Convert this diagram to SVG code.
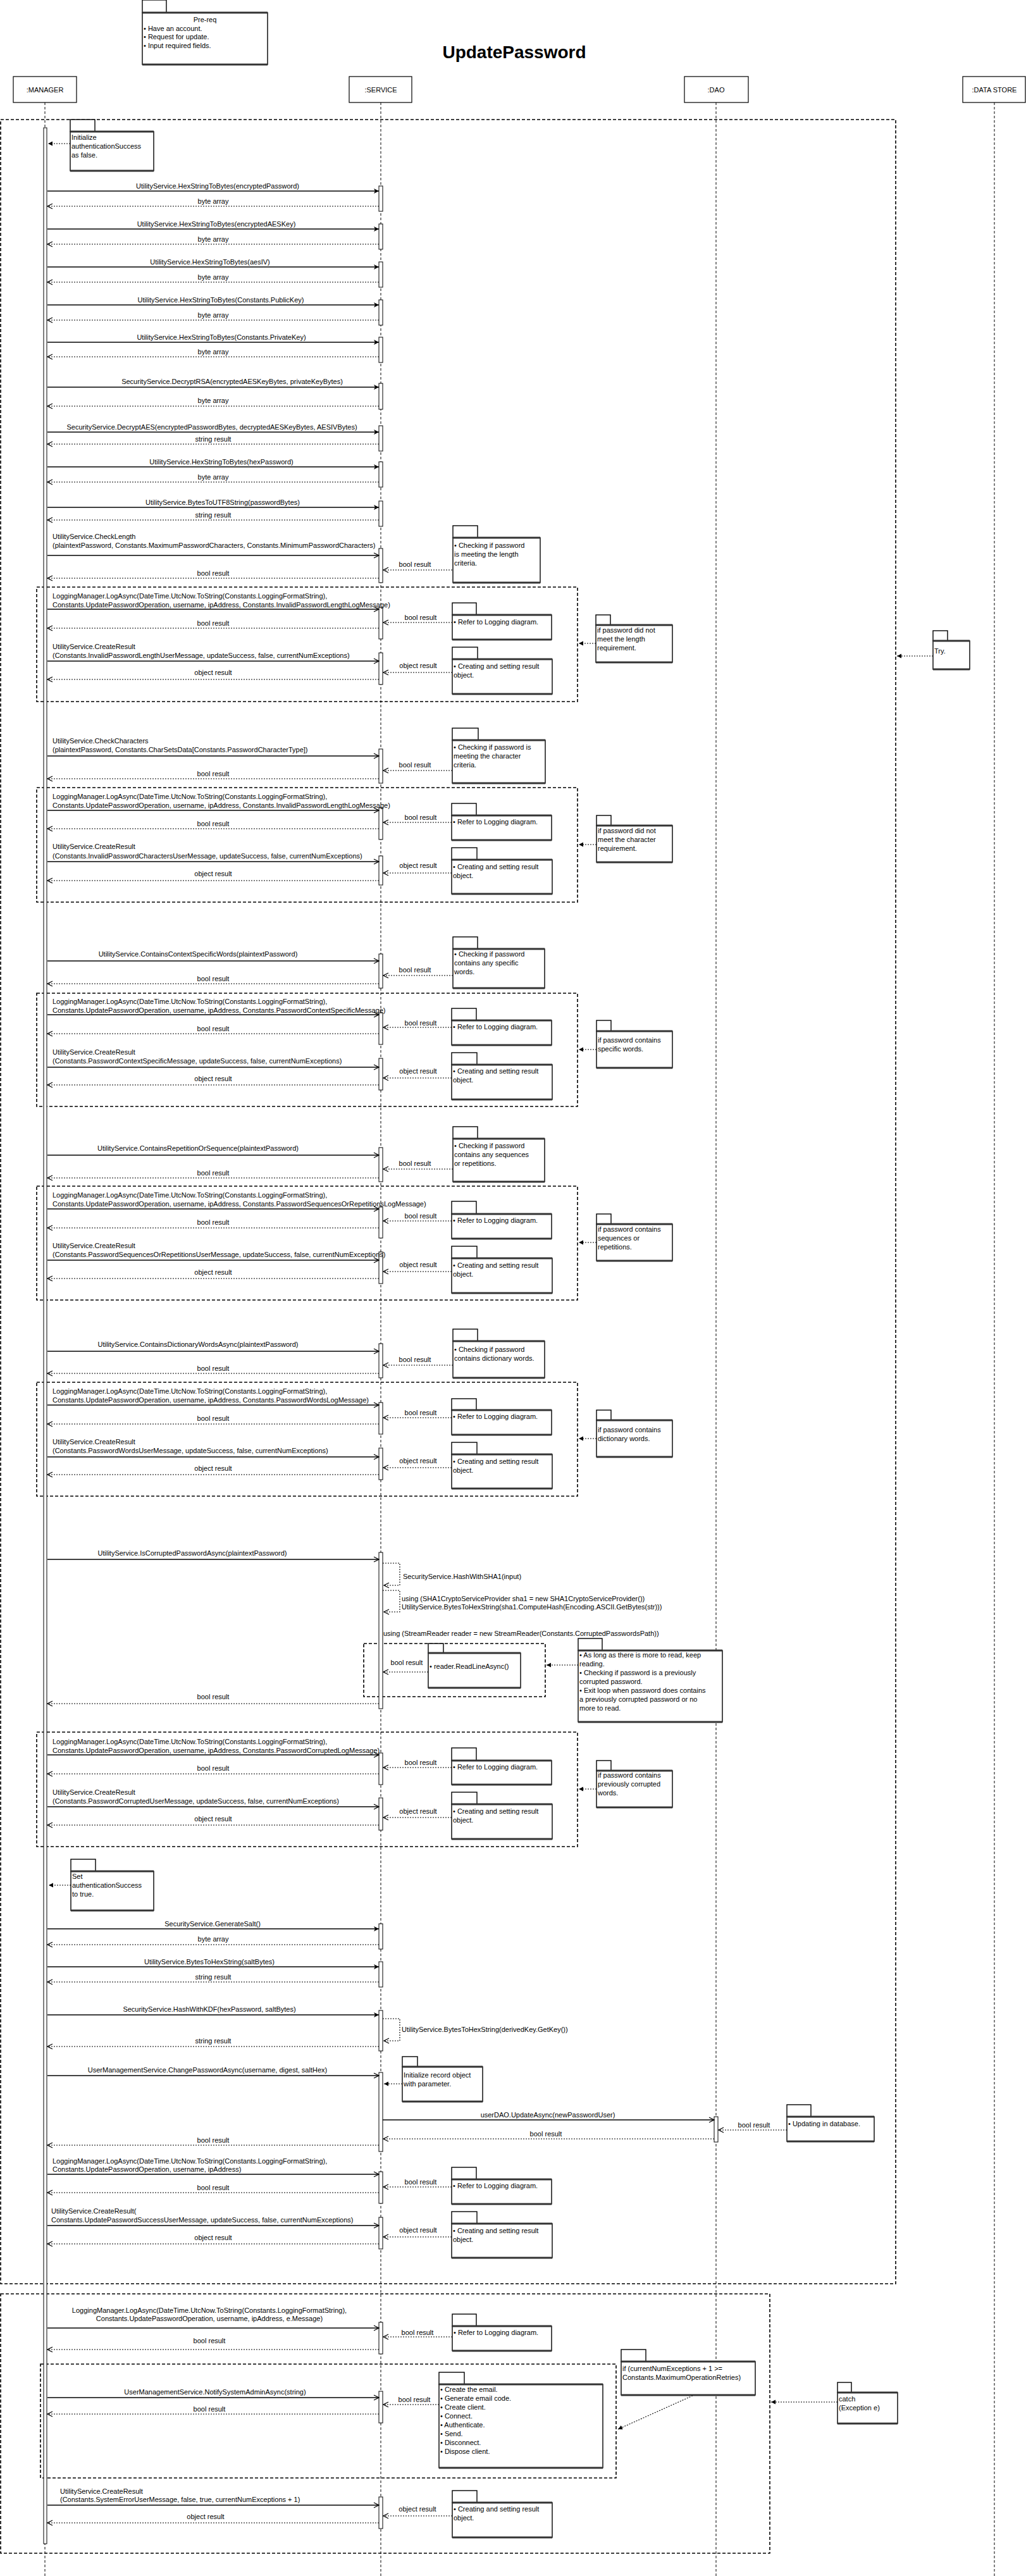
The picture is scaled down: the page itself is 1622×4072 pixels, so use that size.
<svg xmlns="http://www.w3.org/2000/svg" width="1622" height="4072" viewBox="0 0 1622 4072">
<style>
.t{font-family:"Liberation Sans",Arial,sans-serif;font-size:11px;fill:#000}
.m{text-anchor:middle}
.ttl{font-family:"Liberation Sans",Arial,sans-serif;font-size:28px;font-weight:bold;text-anchor:middle;fill:#000}
.ll{stroke:#000;stroke-width:1;stroke-dasharray:4 3;fill:none}
.fr{fill:none;stroke:#000;stroke-width:1.6;stroke-dasharray:5 3}
.hd{fill:#fff;stroke:#000;stroke-width:1.2}
.bar{fill:#fff;stroke:#000;stroke-width:1}
.call{stroke:#000;stroke-width:1.4;fill:none}
.ret{stroke:#000;stroke-width:1.1;stroke-dasharray:2 2;fill:none}
.tab,.nb{fill:#fff;stroke:#000;stroke-width:1.4}
.nbt{stroke:#333;stroke-width:3;fill:none}
</style>
<defs>
<marker id="af" viewBox="0 0 10 10" refX="9" refY="5" markerWidth="10" markerHeight="10" markerUnits="userSpaceOnUse" orient="auto"><path d="M1,1 L9,5 L1,9 L3,5 Z" fill="#000"/></marker>
<marker id="ao" viewBox="0 0 10 10" refX="9" refY="5" markerWidth="10" markerHeight="10" markerUnits="userSpaceOnUse" orient="auto"><path d="M1,1 L9,5 L1,9" fill="none" stroke="#000" stroke-width="1.2"/></marker>
<marker id="as" viewBox="0 0 8 8" refX="7" refY="4" markerWidth="8" markerHeight="8" markerUnits="userSpaceOnUse" orient="auto"><path d="M0,0.5 L7,4 L0,7.5 Z" fill="#000"/></marker>
</defs>
<rect width="1622" height="4072" fill="#fff"/>

<text class="ttl" x="813" y="92">UpdatePassword</text>

<g id="lifelines">
<line class="ll" x1="71" y1="162" x2="71" y2="4072"/>
<line class="ll" x1="602" y1="162" x2="602" y2="4072"/>
<line class="ll" x1="1132" y1="162" x2="1132" y2="4072"/>
<line class="ll" x1="1572" y1="162" x2="1572" y2="4072"/>
</g>
<g id="manager"><rect class="hd" x="21" y="121" width="100" height="41"/><text class="t m" x="71" y="146">:MANAGER</text></g>
<g id="service"><rect class="hd" x="552" y="121" width="99" height="41"/><text class="t m" x="602" y="146">:SERVICE</text></g>
<g id="dao"><rect class="hd" x="1082" y="121" width="101" height="41"/><text class="t m" x="1132" y="146">:DAO</text></g>
<g id="datastore"><rect class="hd" x="1522" y="121" width="99" height="41"/><text class="t m" x="1572" y="146">:DATA STORE</text></g>

<g id="frames">
<rect class="fr" x="1" y="189" width="1415" height="3421"/>
<rect class="fr" x="1" y="3626" width="1216" height="410"/>
<rect class="fr" x="58" y="928" width="855" height="181"/>
<rect class="fr" x="58" y="1245" width="855" height="181"/>
<rect class="fr" x="58" y="1570" width="855" height="179"/>
<rect class="fr" x="58" y="1875" width="855" height="180"/>
<rect class="fr" x="58" y="2185" width="855" height="180"/>
<rect class="fr" x="575" y="2598" width="287" height="84"/>
<rect class="fr" x="58" y="2738" width="855" height="181"/>
<rect class="fr" x="64" y="3737" width="910" height="180"/>
</g>

<g id="activations">
<rect class="bar" x="69" y="202" width="5" height="3819"/>
<rect class="bar" x="599" y="294" width="6" height="40"/>
<rect class="bar" x="599" y="354" width="6" height="40"/>
<rect class="bar" x="599" y="414" width="6" height="40"/>
<rect class="bar" x="599" y="474" width="6" height="40"/>
<rect class="bar" x="599" y="533" width="6" height="40"/>
<rect class="bar" x="599" y="606" width="6" height="41"/>
<rect class="bar" x="599" y="673" width="6" height="40"/>
<rect class="bar" x="599" y="730" width="6" height="40"/>
<rect class="bar" x="599" y="792" width="6" height="40"/>
<rect class="bar" x="599" y="867" width="6" height="54"/>
<rect class="bar" x="599" y="960" width="6" height="50"/>
<rect class="bar" x="599" y="1032" width="6" height="50"/>
<rect class="bar" x="599" y="1184" width="6" height="54"/>
<rect class="bar" x="599" y="1277" width="6" height="50"/>
<rect class="bar" x="599" y="1353" width="6" height="46"/>
<rect class="bar" x="599" y="1508" width="6" height="54"/>
<rect class="bar" x="599" y="1601" width="6" height="50"/>
<rect class="bar" x="599" y="1673" width="6" height="50"/>
<rect class="bar" x="599" y="1814" width="6" height="54"/>
<rect class="bar" x="599" y="1908" width="6" height="49"/>
<rect class="bar" x="599" y="1979" width="6" height="50"/>
<rect class="bar" x="599" y="2124" width="6" height="54"/>
<rect class="bar" x="599" y="2217" width="6" height="50"/>
<rect class="bar" x="599" y="2289" width="6" height="50"/>
<rect class="bar" x="599" y="2454" width="6" height="247"/>
<rect class="bar" x="599" y="2771" width="6" height="50"/>
<rect class="bar" x="599" y="2842" width="6" height="51"/>
<rect class="bar" x="599" y="3041" width="6" height="40"/>
<rect class="bar" x="599" y="3101" width="6" height="40"/>
<rect class="bar" x="599" y="3178" width="6" height="64"/>
<rect class="bar" x="599" y="3276" width="6" height="125"/>
<rect class="bar" x="1129" y="3346" width="6" height="40"/>
<rect class="bar" x="599" y="3433" width="6" height="50"/>
<rect class="bar" x="599" y="3505" width="6" height="50"/>
<rect class="bar" x="599" y="3671" width="6" height="50"/>
<rect class="bar" x="599" y="3780" width="6" height="50"/>
<rect class="bar" x="599" y="3947" width="6" height="50"/>
</g>

<g id="connectors">
<!-- simple calls -->
<line class="call" x1="75" y1="302" x2="599" y2="302" marker-end="url(#af)"/>
<text class="t m" x="344" y="298">UtilityService.HexStringToBytes(encryptedPassword)</text>
<line class="ret" x1="599" y1="326" x2="75" y2="326" marker-end="url(#ao)"/>
<text class="t m" x="337" y="322">byte array</text>

<line class="call" x1="75" y1="362" x2="599" y2="362" marker-end="url(#af)"/>
<text class="t m" x="342" y="358">UtilityService.HexStringToBytes(encryptedAESKey)</text>
<line class="ret" x1="599" y1="386" x2="75" y2="386" marker-end="url(#ao)"/>
<text class="t m" x="337" y="382">byte array</text>

<line class="call" x1="75" y1="422" x2="599" y2="422" marker-end="url(#af)"/>
<text class="t m" x="332" y="418">UtilityService.HexStringToBytes(aesIV)</text>
<line class="ret" x1="599" y1="446" x2="75" y2="446" marker-end="url(#ao)"/>
<text class="t m" x="337" y="442">byte array</text>

<line class="call" x1="75" y1="482" x2="599" y2="482" marker-end="url(#af)"/>
<text class="t m" x="349" y="478">UtilityService.HexStringToBytes(Constants.PublicKey)</text>
<line class="ret" x1="599" y1="506" x2="75" y2="506" marker-end="url(#ao)"/>
<text class="t m" x="337" y="502">byte array</text>

<line class="call" x1="75" y1="541" x2="599" y2="541" marker-end="url(#af)"/>
<text class="t m" x="350" y="537">UtilityService.HexStringToBytes(Constants.PrivateKey)</text>
<line class="ret" x1="599" y1="564" x2="75" y2="564" marker-end="url(#ao)"/>
<text class="t m" x="337" y="560">byte array</text>

<line class="call" x1="75" y1="612" x2="599" y2="612" marker-end="url(#af)"/>
<text class="t m" x="367" y="607">SecurityService.DecryptRSA(encryptedAESKeyBytes, privateKeyBytes)</text>
<line class="ret" x1="599" y1="642" x2="75" y2="642" marker-end="url(#ao)"/>
<text class="t m" x="337" y="637">byte array</text>

<line class="call" x1="75" y1="683" x2="599" y2="683" marker-end="url(#af)"/>
<text class="t m" x="335" y="679">SecurityService.DecryptAES(encryptedPasswordBytes, decryptedAESKeyBytes, AESIVBytes)</text>
<line class="ret" x1="599" y1="702" x2="75" y2="702" marker-end="url(#ao)"/>
<text class="t m" x="337" y="698">string result</text>

<line class="call" x1="75" y1="738" x2="599" y2="738" marker-end="url(#af)"/>
<text class="t m" x="350" y="734">UtilityService.HexStringToBytes(hexPassword)</text>
<line class="ret" x1="599" y1="762" x2="75" y2="762" marker-end="url(#ao)"/>
<text class="t m" x="337" y="758">byte array</text>

<line class="call" x1="75" y1="802" x2="599" y2="802" marker-end="url(#af)"/>
<text class="t m" x="352" y="798">UtilityService.BytesToUTF8String(passwordBytes)</text>
<line class="ret" x1="599" y1="822" x2="75" y2="822" marker-end="url(#ao)"/>
<text class="t m" x="337" y="818">string result</text>

<!-- CheckLength -->
<text class="t" x="83" y="852">UtilityService.CheckLength</text>
<text class="t" x="83" y="866">(plaintextPassword, Constants.MaximumPasswordCharacters, Constants.MinimumPasswordCharacters)</text>
<line class="call" x1="75" y1="878" x2="599" y2="878" marker-end="url(#ao)"/>
<line class="ret" x1="715" y1="901" x2="606" y2="901" marker-end="url(#ao)"/>
<text class="t m" x="656" y="896">bool result</text>
<line class="ret" x1="599" y1="914" x2="75" y2="914" marker-end="url(#ao)"/>
<text class="t m" x="337" y="910">bool result</text>

<!-- Log 1 -->
<text class="t" x="83" y="946">LoggingManager.LogAsync(DateTime.UtcNow.ToString(Constants.LoggingFormatString),</text>
<text class="t" x="83" y="960">Constants.UpdatePasswordOperation, username, ipAddress, Constants.InvalidPasswordLengthLogMessage)</text>
<line class="call" x1="75" y1="963" x2="599" y2="963" marker-end="url(#ao)"/>
<line class="ret" x1="715" y1="984" x2="606" y2="984" marker-end="url(#ao)"/>
<text class="t m" x="665" y="980">bool result</text>
<line class="ret" x1="599" y1="993" x2="75" y2="993" marker-end="url(#ao)"/>
<text class="t m" x="337" y="989">bool result</text>
<text class="t" x="83" y="1026">UtilityService.CreateResult</text>
<text class="t" x="83" y="1040">(Constants.InvalidPasswordLengthUserMessage, updateSuccess, false, currentNumExceptions)</text>
<line class="call" x1="75" y1="1045" x2="599" y2="1045" marker-end="url(#ao)"/>
<line class="ret" x1="715" y1="1063" x2="606" y2="1063" marker-end="url(#ao)"/>
<text class="t m" x="661" y="1056">object result</text>
<line class="ret" x1="599" y1="1074" x2="75" y2="1074" marker-end="url(#ao)"/>
<text class="t m" x="337" y="1067">object result</text>

<!-- CheckCharacters -->
<text class="t" x="83" y="1175">UtilityService.CheckCharacters</text>
<text class="t" x="83" y="1189">(plaintextPassword, Constants.CharSetsData[Constants.PasswordCharacterType])</text>
<line class="call" x1="75" y1="1195" x2="599" y2="1195" marker-end="url(#ao)"/>
<line class="ret" x1="715" y1="1218" x2="606" y2="1218" marker-end="url(#ao)"/>
<text class="t m" x="656" y="1213">bool result</text>
<line class="ret" x1="599" y1="1231" x2="75" y2="1231" marker-end="url(#ao)"/>
<text class="t m" x="337" y="1227">bool result</text>

<!-- Log 2 -->
<text class="t" x="83" y="1263">LoggingManager.LogAsync(DateTime.UtcNow.ToString(Constants.LoggingFormatString),</text>
<text class="t" x="83" y="1277">Constants.UpdatePasswordOperation, username, ipAddress, Constants.InvalidPasswordLengthLogMessage)</text>
<line class="call" x1="75" y1="1281" x2="599" y2="1281" marker-end="url(#ao)"/>
<line class="ret" x1="714" y1="1300" x2="606" y2="1300" marker-end="url(#ao)"/>
<text class="t m" x="665" y="1296">bool result</text>
<line class="ret" x1="599" y1="1310" x2="75" y2="1310" marker-end="url(#ao)"/>
<text class="t m" x="337" y="1306">bool result</text>
<text class="t" x="83" y="1342">UtilityService.CreateResult</text>
<text class="t" x="83" y="1357">(Constants.InvalidPasswordCharactersUserMessage, updateSuccess, false, currentNumExceptions)</text>
<line class="call" x1="75" y1="1362" x2="599" y2="1362" marker-end="url(#ao)"/>
<line class="ret" x1="714" y1="1380" x2="606" y2="1380" marker-end="url(#ao)"/>
<text class="t m" x="661" y="1372">object result</text>
<line class="ret" x1="599" y1="1392" x2="75" y2="1392" marker-end="url(#ao)"/>
<text class="t m" x="337" y="1385">object result</text>

<!-- Context -->
<text class="t m" x="313" y="1512">UtilityService.ContainsContextSpecificWords(plaintextPassword)</text>
<line class="call" x1="75" y1="1519" x2="599" y2="1519" marker-end="url(#ao)"/>
<line class="ret" x1="716" y1="1542" x2="606" y2="1542" marker-end="url(#ao)"/>
<text class="t m" x="656" y="1537">bool result</text>
<line class="ret" x1="599" y1="1555" x2="75" y2="1555" marker-end="url(#ao)"/>
<text class="t m" x="337" y="1551">bool result</text>

<!-- Log 3 -->
<text class="t" x="83" y="1587">LoggingManager.LogAsync(DateTime.UtcNow.ToString(Constants.LoggingFormatString),</text>
<text class="t" x="83" y="1601">Constants.UpdatePasswordOperation, username, ipAddress, Constants.PasswordContextSpecificMessage)</text>
<line class="call" x1="75" y1="1604" x2="599" y2="1604" marker-end="url(#ao)"/>
<line class="ret" x1="714" y1="1624" x2="606" y2="1624" marker-end="url(#ao)"/>
<text class="t m" x="665" y="1621">bool result</text>
<line class="ret" x1="599" y1="1634" x2="75" y2="1634" marker-end="url(#ao)"/>
<text class="t m" x="337" y="1630">bool result</text>
<text class="t" x="83" y="1667">UtilityService.CreateResult</text>
<text class="t" x="83" y="1681">(Constants.PasswordContextSpecificMessage, updateSuccess, false, currentNumExceptions)</text>
<line class="call" x1="75" y1="1687" x2="599" y2="1687" marker-end="url(#ao)"/>
<line class="ret" x1="714" y1="1704" x2="606" y2="1704" marker-end="url(#ao)"/>
<text class="t m" x="661" y="1697">object result</text>
<line class="ret" x1="599" y1="1715" x2="75" y2="1715" marker-end="url(#ao)"/>
<text class="t m" x="337" y="1709">object result</text>

<!-- Repetition -->
<text class="t m" x="313" y="1819">UtilityService.ContainsRepetitionOrSequence(plaintextPassword)</text>
<line class="call" x1="75" y1="1826" x2="599" y2="1826" marker-end="url(#ao)"/>
<line class="ret" x1="716" y1="1848" x2="606" y2="1848" marker-end="url(#ao)"/>
<text class="t m" x="656" y="1843">bool result</text>
<line class="ret" x1="599" y1="1862" x2="75" y2="1862" marker-end="url(#ao)"/>
<text class="t m" x="337" y="1858">bool result</text>

<!-- Log 4 -->
<text class="t" x="83" y="1893">LoggingManager.LogAsync(DateTime.UtcNow.ToString(Constants.LoggingFormatString),</text>
<text class="t" x="83" y="1907">Constants.UpdatePasswordOperation, username, ipAddress, Constants.PasswordSequencesOrRepetitionsLogMessage)</text>
<line class="call" x1="75" y1="1911" x2="599" y2="1911" marker-end="url(#ao)"/>
<line class="ret" x1="714" y1="1930" x2="606" y2="1930" marker-end="url(#ao)"/>
<text class="t m" x="665" y="1926">bool result</text>
<line class="ret" x1="599" y1="1941" x2="75" y2="1941" marker-end="url(#ao)"/>
<text class="t m" x="337" y="1936">bool result</text>
<text class="t" x="83" y="1973">UtilityService.CreateResult</text>
<text class="t" x="83" y="1987">(Constants.PasswordSequencesOrRepetitionsUserMessage, updateSuccess, false, currentNumExceptions)</text>
<line class="call" x1="75" y1="1992" x2="599" y2="1992" marker-end="url(#ao)"/>
<line class="ret" x1="714" y1="2010" x2="606" y2="2010" marker-end="url(#ao)"/>
<text class="t m" x="661" y="2003">object result</text>
<line class="ret" x1="599" y1="2021" x2="75" y2="2021" marker-end="url(#ao)"/>
<text class="t m" x="337" y="2015">object result</text>

<!-- Dictionary -->
<text class="t m" x="313" y="2129">UtilityService.ContainsDictionaryWordsAsync(plaintextPassword)</text>
<line class="call" x1="75" y1="2136" x2="599" y2="2136" marker-end="url(#ao)"/>
<line class="ret" x1="716" y1="2158" x2="606" y2="2158" marker-end="url(#ao)"/>
<text class="t m" x="656" y="2153">bool result</text>
<line class="ret" x1="599" y1="2171" x2="75" y2="2171" marker-end="url(#ao)"/>
<text class="t m" x="337" y="2167">bool result</text>

<!-- Log 5 -->
<text class="t" x="83" y="2203">LoggingManager.LogAsync(DateTime.UtcNow.ToString(Constants.LoggingFormatString),</text>
<text class="t" x="83" y="2217">Constants.UpdatePasswordOperation, username, ipAddress, Constants.PasswordWordsLogMessage)</text>
<line class="call" x1="75" y1="2221" x2="599" y2="2221" marker-end="url(#ao)"/>
<line class="ret" x1="714" y1="2241" x2="606" y2="2241" marker-end="url(#ao)"/>
<text class="t m" x="665" y="2237">bool result</text>
<line class="ret" x1="599" y1="2251" x2="75" y2="2251" marker-end="url(#ao)"/>
<text class="t m" x="337" y="2246">bool result</text>
<text class="t" x="83" y="2283">UtilityService.CreateResult</text>
<text class="t" x="83" y="2297">(Constants.PasswordWordsUserMessage, updateSuccess, false, currentNumExceptions)</text>
<line class="call" x1="75" y1="2303" x2="599" y2="2303" marker-end="url(#ao)"/>
<line class="ret" x1="714" y1="2320" x2="606" y2="2320" marker-end="url(#ao)"/>
<text class="t m" x="661" y="2313">object result</text>
<line class="ret" x1="599" y1="2331" x2="75" y2="2331" marker-end="url(#ao)"/>
<text class="t m" x="337" y="2325">object result</text>

<!-- Corrupted -->
<text class="t m" x="304" y="2459">UtilityService.IsCorruptedPasswordAsync(plaintextPassword)</text>
<line class="call" x1="75" y1="2465" x2="599" y2="2465" marker-end="url(#ao)"/>
<path class="ret" d="M605,2471 H632 V2506 H607" marker-end="url(#ao)"/>
<text class="t" x="637" y="2496">SecurityService.HashWithSHA1(input)</text>
<path class="ret" d="M605,2514 H632 V2548 H607" marker-end="url(#ao)"/>
<text class="t" x="635" y="2531">using (SHA1CryptoServiceProvider sha1 = new SHA1CryptoServiceProvider())</text>
<text class="t" x="635" y="2544">UtilityService.BytesToHexString(sha1.ComputeHash(Encoding.ASCII.GetBytes(str)))</text>
<text class="t" x="606" y="2586">using (StreamReader reader = new StreamReader(Constants.CorruptedPasswordsPath))</text>
<line class="ret" x1="677" y1="2643" x2="606" y2="2643" marker-end="url(#ao)"/>
<text class="t m" x="643" y="2632">bool result</text>
<line class="ret" x1="599" y1="2693" x2="75" y2="2693" marker-end="url(#ao)"/>
<text class="t m" x="337" y="2686">bool result</text>

<!-- Log 6 -->
<text class="t" x="83" y="2757">LoggingManager.LogAsync(DateTime.UtcNow.ToString(Constants.LoggingFormatString),</text>
<text class="t" x="83" y="2771">Constants.UpdatePasswordOperation, username, ipAddress, Constants.PasswordCorruptedLogMessage)</text>
<line class="call" x1="75" y1="2774" x2="599" y2="2774" marker-end="url(#ao)"/>
<line class="ret" x1="714" y1="2794" x2="606" y2="2794" marker-end="url(#ao)"/>
<text class="t m" x="665" y="2790">bool result</text>
<line class="ret" x1="599" y1="2804" x2="75" y2="2804" marker-end="url(#ao)"/>
<text class="t m" x="337" y="2799">bool result</text>
<text class="t" x="83" y="2837">UtilityService.CreateResult</text>
<text class="t" x="83" y="2851">(Constants.PasswordCorruptedUserMessage, updateSuccess, false, currentNumExceptions)</text>
<line class="call" x1="75" y1="2856" x2="599" y2="2856" marker-end="url(#ao)"/>
<line class="ret" x1="714" y1="2873" x2="606" y2="2873" marker-end="url(#ao)"/>
<text class="t m" x="661" y="2867">object result</text>
<line class="ret" x1="599" y1="2885" x2="75" y2="2885" marker-end="url(#ao)"/>
<text class="t m" x="337" y="2879">object result</text>

<!-- Salt / hash -->
<line class="call" x1="75" y1="3049" x2="599" y2="3049" marker-end="url(#af)"/>
<text class="t m" x="336" y="3045">SecurityService.GenerateSalt()</text>
<line class="ret" x1="599" y1="3074" x2="75" y2="3074" marker-end="url(#ao)"/>
<text class="t m" x="337" y="3069">byte array</text>
<line class="call" x1="75" y1="3109" x2="599" y2="3109" marker-end="url(#af)"/>
<text class="t m" x="331" y="3105">UtilityService.BytesToHexString(saltBytes)</text>
<line class="ret" x1="599" y1="3133" x2="75" y2="3133" marker-end="url(#ao)"/>
<text class="t m" x="337" y="3129">string result</text>
<line class="call" x1="75" y1="3185" x2="599" y2="3185" marker-end="url(#af)"/>
<text class="t m" x="331" y="3180">SecurityService.HashWithKDF(hexPassword, saltBytes)</text>
<path class="ret" d="M605,3191 H632 V3226 H607" marker-end="url(#ao)"/>
<text class="t" x="635" y="3212">UtilityService.BytesToHexString(derivedKey.GetKey())</text>
<line class="ret" x1="599" y1="3235" x2="75" y2="3235" marker-end="url(#ao)"/>
<text class="t m" x="337" y="3230">string result</text>

<!-- ChangePassword -->
<line class="call" x1="75" y1="3281" x2="599" y2="3281" marker-end="url(#ao)"/>
<text class="t m" x="328" y="3276">UserManagementService.ChangePasswordAsync(username, digest, saltHex)</text>
<line class="call" x1="605" y1="3351" x2="1129" y2="3351" marker-end="url(#ao)"/>
<text class="t m" x="866" y="3347">userDAO.UpdateAsync(newPasswordUser)</text>
<line class="ret" x1="1244" y1="3367" x2="1136" y2="3367" marker-end="url(#ao)"/>
<text class="t m" x="1192" y="3363">bool result</text>
<line class="ret" x1="1129" y1="3381" x2="606" y2="3381" marker-end="url(#ao)"/>
<text class="t m" x="863" y="3377">bool result</text>
<line class="ret" x1="599" y1="3391" x2="75" y2="3391" marker-end="url(#ao)"/>
<text class="t m" x="337" y="3387">bool result</text>

<!-- Log 7 -->
<text class="t" x="83" y="3420">LoggingManager.LogAsync(DateTime.UtcNow.ToString(Constants.LoggingFormatString),</text>
<text class="t" x="83" y="3433">Constants.UpdatePasswordOperation, username, ipAddress)</text>
<line class="call" x1="75" y1="3437" x2="599" y2="3437" marker-end="url(#ao)"/>
<line class="ret" x1="714" y1="3457" x2="606" y2="3457" marker-end="url(#ao)"/>
<text class="t m" x="665" y="3453">bool result</text>
<line class="ret" x1="599" y1="3466" x2="75" y2="3466" marker-end="url(#ao)"/>
<text class="t m" x="337" y="3462">bool result</text>
<text class="t" x="81" y="3499">UtilityService.CreateResult(</text>
<text class="t" x="81" y="3513">Constants.UpdatePasswordSuccessUserMessage, updateSuccess, false, currentNumExceptions)</text>
<line class="call" x1="75" y1="3518" x2="599" y2="3518" marker-end="url(#ao)"/>
<line class="ret" x1="714" y1="3536" x2="606" y2="3536" marker-end="url(#ao)"/>
<text class="t m" x="661" y="3529">object result</text>
<line class="ret" x1="599" y1="3547" x2="75" y2="3547" marker-end="url(#ao)"/>
<text class="t m" x="337" y="3541">object result</text>

<!-- catch -->
<text class="t m" x="331" y="3656">LoggingManager.LogAsync(DateTime.UtcNow.ToString(Constants.LoggingFormatString),</text>
<text class="t m" x="331" y="3669">Constants.UpdatePasswordOperation, username, ipAddress, e.Message)</text>
<line class="call" x1="75" y1="3680" x2="599" y2="3680" marker-end="url(#ao)"/>
<line class="ret" x1="715" y1="3694" x2="606" y2="3694" marker-end="url(#ao)"/>
<text class="t m" x="660" y="3691">bool result</text>
<line class="ret" x1="599" y1="3714" x2="75" y2="3714" marker-end="url(#ao)"/>
<text class="t m" x="331" y="3704">bool result</text>
<line class="call" x1="75" y1="3790" x2="599" y2="3790" marker-end="url(#ao)"/>
<text class="t m" x="340" y="3785">UserManagementService.NotifySystemAdminAsync(string)</text>
<line class="ret" x1="694" y1="3801" x2="606" y2="3801" marker-end="url(#ao)"/>
<text class="t m" x="655" y="3797">bool result</text>
<line class="ret" x1="599" y1="3816" x2="75" y2="3816" marker-end="url(#ao)"/>
<text class="t m" x="331" y="3812">bool result</text>
<text class="t" x="95" y="3942">UtilityService.CreateResult</text>
<text class="t" x="95" y="3955">(Constants.SystemErrorUserMessage, false, true, currentNumExceptions + 1)</text>
<line class="call" x1="75" y1="3960" x2="599" y2="3960" marker-end="url(#ao)"/>
<line class="ret" x1="715" y1="3977" x2="606" y2="3977" marker-end="url(#ao)"/>
<text class="t m" x="660" y="3970">object result</text>
<line class="ret" x1="599" y1="3988" x2="75" y2="3988" marker-end="url(#ao)"/>
<text class="t m" x="325" y="3982">object result</text>

<!-- note anchors -->
<line class="ret" x1="111" y1="227" x2="76" y2="227" marker-end="url(#as)"/>
<line class="ret" x1="942" y1="1017" x2="915" y2="1017" marker-end="url(#as)"/>
<line class="ret" x1="1475" y1="1037" x2="1418" y2="1037" marker-end="url(#as)"/>
<line class="ret" x1="943" y1="1335" x2="915" y2="1335" marker-end="url(#as)"/>
<line class="ret" x1="943" y1="1659" x2="915" y2="1659" marker-end="url(#as)"/>
<line class="ret" x1="943" y1="1964" x2="915" y2="1964" marker-end="url(#as)"/>
<line class="ret" x1="943" y1="2274" x2="915" y2="2274" marker-end="url(#as)"/>
<line class="ret" x1="914" y1="2632" x2="864" y2="2632" marker-end="url(#as)"/>
<line class="ret" x1="943" y1="2828" x2="915" y2="2828" marker-end="url(#as)"/>
<line class="ret" x1="112" y1="2980" x2="77" y2="2980" marker-end="url(#as)"/>
<line class="ret" x1="636" y1="3294" x2="607" y2="3294" marker-end="url(#as)"/>
<line class="ret" x1="1095" y1="3787" x2="977" y2="3840" marker-end="url(#as)"/>
<line class="ret" x1="1324" y1="3797" x2="1219" y2="3797" marker-end="url(#as)"/>
</g>

<g id="note-prereq"><rect class="tab" x="225" y="0" width="38" height="20"/><rect class="nb" x="225" y="20" width="198" height="82"/><path class="nbt" d="M225,20 h198 M225,102 h198"/>
<text class="t m" x="324" y="35">Pre-req</text><text class="t" x="227" y="49">• Have an account.</text><text class="t" x="227" y="62">• Request for update.</text><text class="t" x="227" y="76">• Input required fields.</text></g>

<g id="note-init"><rect class="tab" x="111" y="189" width="39" height="19"/><rect class="nb" x="111" y="208" width="132" height="62"/><path class="nbt" d="M111,208 h132 M111,270 h132"/>
<text class="t" x="113" y="221">Initialize</text><text class="t" x="113" y="235">authenticationSuccess</text><text class="t" x="113" y="249">as false.</text></g>

<g id="note-checklength"><rect class="tab" x="716" y="831" width="39" height="19"/><rect class="nb" x="716" y="850" width="138" height="71"/><path class="nbt" d="M716,850 h138 M716,921 h138"/>
<text class="t" x="718" y="866">• Checking if password</text><text class="t" x="718" y="880">is meeting the length</text><text class="t" x="718" y="894">criteria.</text></g>

<g id="note-refer1"><rect class="tab" x="715" y="953" width="38" height="19"/><rect class="nb" x="715" y="972" width="157" height="39"/><path class="nbt" d="M715,972 h157 M715,1011 h157"/>
<text class="t" x="717" y="987">• Refer to Logging diagram.</text></g>

<g id="note-create1"><rect class="tab" x="715" y="1023" width="40" height="19"/><rect class="nb" x="715" y="1042" width="158" height="55"/><path class="nbt" d="M715,1042 h158 M715,1097 h158"/>
<text class="t" x="717" y="1057">• Creating and setting result</text><text class="t" x="717" y="1071">object.</text></g>

<g id="note-side1"><rect class="tab" x="942" y="972" width="23" height="16"/><rect class="nb" x="942" y="988" width="121" height="59"/><path class="nbt" d="M942,988 h121 M942,1047 h121"/>
<text class="t" x="944" y="1000">if password did not</text><text class="t" x="944" y="1014">meet the length</text><text class="t" x="944" y="1028">requirement.</text></g>

<g id="note-try"><rect class="tab" x="1475" y="997" width="23" height="16"/><rect class="nb" x="1475" y="1013" width="58" height="45"/><path class="nbt" d="M1475,1013 h58 M1475,1058 h58"/>
<text class="t" x="1477" y="1033">Try.</text></g>

<g id="note-checkchar"><rect class="tab" x="715" y="1151" width="41" height="19"/><rect class="nb" x="715" y="1170" width="147" height="68"/><path class="nbt" d="M715,1170 h147 M715,1238 h147"/>
<text class="t" x="717" y="1185">• Checking if password is</text><text class="t" x="717" y="1199">meeting the character</text><text class="t" x="717" y="1213">criteria.</text></g>

<g id="note-refer2"><rect class="tab" x="714" y="1270" width="39" height="19"/><rect class="nb" x="714" y="1289" width="158" height="39"/><path class="nbt" d="M714,1289 h158 M714,1328 h158"/>
<text class="t" x="716" y="1303">• Refer to Logging diagram.</text></g>

<g id="note-create2"><rect class="tab" x="714" y="1340" width="40" height="19"/><rect class="nb" x="714" y="1359" width="159" height="54"/><path class="nbt" d="M714,1359 h159 M714,1413 h159"/>
<text class="t" x="716" y="1374">• Creating and setting result</text><text class="t" x="716" y="1388">object.</text></g>

<g id="note-side2"><rect class="tab" x="943" y="1289" width="23" height="16"/><rect class="nb" x="943" y="1305" width="120" height="58"/><path class="nbt" d="M943,1305 h120 M943,1363 h120"/>
<text class="t" x="945" y="1317">if password did not</text><text class="t" x="945" y="1331">meet the character</text><text class="t" x="945" y="1345">requirement.</text></g>

<g id="note-context"><rect class="tab" x="716" y="1481" width="39" height="19"/><rect class="nb" x="716" y="1500" width="145" height="62"/><path class="nbt" d="M716,1500 h145 M716,1562 h145"/>
<text class="t" x="718" y="1512">• Checking if password</text><text class="t" x="718" y="1526">contains any specific</text><text class="t" x="718" y="1540">words.</text></g>

<g id="note-refer3"><rect class="tab" x="714" y="1594" width="39" height="19"/><rect class="nb" x="714" y="1613" width="158" height="39"/><path class="nbt" d="M714,1613 h158 M714,1652 h158"/>
<text class="t" x="716" y="1627">• Refer to Logging diagram.</text></g>

<g id="note-create3"><rect class="tab" x="714" y="1664" width="40" height="19"/><rect class="nb" x="714" y="1683" width="159" height="55"/><path class="nbt" d="M714,1683 h159 M714,1738 h159"/>
<text class="t" x="716" y="1697">• Creating and setting result</text><text class="t" x="716" y="1711">object.</text></g>

<g id="note-side3"><rect class="tab" x="943" y="1613" width="23" height="17"/><rect class="nb" x="943" y="1630" width="120" height="58"/><path class="nbt" d="M943,1630 h120 M943,1688 h120"/>
<text class="t" x="945" y="1648">if password contains</text><text class="t" x="945" y="1662">specific words.</text></g>

<g id="note-repetition"><rect class="tab" x="716" y="1781" width="39" height="19"/><rect class="nb" x="716" y="1800" width="145" height="68"/><path class="nbt" d="M716,1800 h145 M716,1868 h145"/>
<text class="t" x="718" y="1815">• Checking if password</text><text class="t" x="718" y="1829">contains any sequences</text><text class="t" x="718" y="1843">or repetitions.</text></g>

<g id="note-refer4"><rect class="tab" x="714" y="1899" width="39" height="20"/><rect class="nb" x="714" y="1919" width="158" height="39"/><path class="nbt" d="M714,1919 h158 M714,1958 h158"/>
<text class="t" x="716" y="1933">• Refer to Logging diagram.</text></g>

<g id="note-create4"><rect class="tab" x="714" y="1970" width="40" height="19"/><rect class="nb" x="714" y="1989" width="159" height="55"/><path class="nbt" d="M714,1989 h159 M714,2044 h159"/>
<text class="t" x="716" y="2004">• Creating and setting result</text><text class="t" x="716" y="2018">object.</text></g>

<g id="note-side4"><rect class="tab" x="943" y="1919" width="23" height="16"/><rect class="nb" x="943" y="1935" width="120" height="58"/><path class="nbt" d="M943,1935 h120 M943,1993 h120"/>
<text class="t" x="945" y="1947">if password contains</text><text class="t" x="945" y="1961">sequences or</text><text class="t" x="945" y="1975">repetitions.</text></g>

<g id="note-dictionary"><rect class="tab" x="716" y="2101" width="39" height="19"/><rect class="nb" x="716" y="2120" width="145" height="58"/><path class="nbt" d="M716,2120 h145 M716,2178 h145"/>
<text class="t" x="718" y="2137">• Checking if password</text><text class="t" x="718" y="2151">contains dictionary words.</text></g>

<g id="note-refer5"><rect class="tab" x="714" y="2211" width="39" height="18"/><rect class="nb" x="714" y="2229" width="158" height="39"/><path class="nbt" d="M714,2229 h158 M714,2268 h158"/>
<text class="t" x="716" y="2243">• Refer to Logging diagram.</text></g>

<g id="note-create5"><rect class="tab" x="714" y="2280" width="40" height="19"/><rect class="nb" x="714" y="2299" width="159" height="54"/><path class="nbt" d="M714,2299 h159 M714,2353 h159"/>
<text class="t" x="716" y="2314">• Creating and setting result</text><text class="t" x="716" y="2328">object.</text></g>

<g id="note-side5"><rect class="tab" x="943" y="2229" width="23" height="16"/><rect class="nb" x="943" y="2245" width="120" height="58"/><path class="nbt" d="M943,2245 h120 M943,2303 h120"/>
<text class="t" x="945" y="2264">if password contains</text><text class="t" x="945" y="2278">dictionary words.</text></g>

<g id="note-readline"><rect class="tab" x="677" y="2598" width="24" height="15"/><rect class="nb" x="677" y="2613" width="146" height="55"/><path class="nbt" d="M677,2613 h146 M677,2668 h146"/>
<text class="t" x="679" y="2638">• reader.ReadLineAsync()</text></g>

<g id="note-loop"><rect class="tab" x="914" y="2590" width="38" height="19"/><rect class="nb" x="914" y="2609" width="228" height="113"/><path class="nbt" d="M914,2609 h228 M914,2722 h228"/>
<text class="t" x="916" y="2620">• As long as there is more to read, keep</text><text class="t" x="916" y="2634">reading.</text><text class="t" x="916" y="2648">• Checking if password is a previously</text><text class="t" x="916" y="2662">corrupted password.</text><text class="t" x="916" y="2676">• Exit loop when password does contains</text><text class="t" x="916" y="2690">a previously corrupted password or no</text><text class="t" x="916" y="2704">more to read.</text></g>

<g id="note-refer6"><rect class="tab" x="714" y="2763" width="39" height="20"/><rect class="nb" x="714" y="2783" width="158" height="38"/><path class="nbt" d="M714,2783 h158 M714,2821 h158"/>
<text class="t" x="716" y="2797">• Refer to Logging diagram.</text></g>

<g id="note-create6"><rect class="tab" x="714" y="2833" width="40" height="19"/><rect class="nb" x="714" y="2852" width="159" height="55"/><path class="nbt" d="M714,2852 h159 M714,2907 h159"/>
<text class="t" x="716" y="2867">• Creating and setting result</text><text class="t" x="716" y="2881">object.</text></g>

<g id="note-side6"><rect class="tab" x="943" y="2783" width="23" height="16"/><rect class="nb" x="943" y="2799" width="120" height="58"/><path class="nbt" d="M943,2799 h120 M943,2857 h120"/>
<text class="t" x="945" y="2810">if password contains</text><text class="t" x="945" y="2824">previously corrupted</text><text class="t" x="945" y="2838">words.</text></g>

<g id="note-set"><rect class="tab" x="112" y="2939" width="39" height="19"/><rect class="nb" x="112" y="2958" width="131" height="62"/><path class="nbt" d="M112,2958 h131 M112,3020 h131"/>
<text class="t" x="114" y="2970">Set</text><text class="t" x="114" y="2984">authenticationSuccess</text><text class="t" x="114" y="2998">to true.</text></g>

<g id="note-record"><rect class="tab" x="636" y="3251" width="24" height="16"/><rect class="nb" x="636" y="3267" width="127" height="55"/><path class="nbt" d="M636,3267 h127 M636,3322 h127"/>
<text class="t" x="638" y="3284">Initialize record object</text><text class="t" x="638" y="3298">with parameter.</text></g>

<g id="note-updating"><rect class="tab" x="1244" y="3327" width="38" height="19"/><rect class="nb" x="1244" y="3346" width="138" height="39"/><path class="nbt" d="M1244,3346 h138 M1244,3385 h138"/>
<text class="t" x="1246" y="3361">• Updating in database.</text></g>

<g id="note-refer7"><rect class="tab" x="714" y="3426" width="39" height="19"/><rect class="nb" x="714" y="3445" width="158" height="39"/><path class="nbt" d="M714,3445 h158 M714,3484 h158"/>
<text class="t" x="716" y="3459">• Refer to Logging diagram.</text></g>

<g id="note-create7"><rect class="tab" x="714" y="3496" width="40" height="19"/><rect class="nb" x="714" y="3515" width="159" height="54"/><path class="nbt" d="M714,3515 h159 M714,3569 h159"/>
<text class="t" x="716" y="3530">• Creating and setting result</text><text class="t" x="716" y="3544">object.</text></g>

<g id="note-refer8"><rect class="tab" x="715" y="3658" width="38" height="19"/><rect class="nb" x="715" y="3677" width="157" height="39"/><path class="nbt" d="M715,3677 h157 M715,3716 h157"/>
<text class="t" x="717" y="3691">• Refer to Logging diagram.</text></g>

<g id="note-if"><rect class="tab" x="982" y="3714" width="39" height="19"/><rect class="nb" x="982" y="3733" width="212" height="53"/><path class="nbt" d="M982,3733 h212 M982,3786 h212"/>
<text class="t" x="984" y="3748">if (currentNumExceptions + 1 &gt;=</text><text class="t" x="984" y="3762">Constants.MaximumOperationRetries)</text></g>

<g id="note-email"><rect class="tab" x="694" y="3750" width="40" height="19"/><rect class="nb" x="694" y="3769" width="259" height="132"/><path class="nbt" d="M694,3769 h259 M694,3901 h259"/>
<text class="t" x="696" y="3781">• Create the email.</text><text class="t" x="696" y="3795">• Generate email code.</text><text class="t" x="696" y="3809">• Create client.</text><text class="t" x="696" y="3823">• Connect.</text><text class="t" x="696" y="3837">• Authenticate.</text><text class="t" x="696" y="3851">• Send.</text><text class="t" x="696" y="3865">• Disconnect.</text><text class="t" x="696" y="3879">• Dispose client.</text></g>

<g id="note-catch"><rect class="tab" x="1324" y="3766" width="22" height="16"/><rect class="nb" x="1324" y="3782" width="95" height="49"/><path class="nbt" d="M1324,3782 h95 M1324,3831 h95"/>
<text class="t" x="1326" y="3796">catch</text><text class="t" x="1326" y="3810">(Exception e)</text></g>

<g id="note-create8"><rect class="tab" x="715" y="3937" width="39" height="19"/><rect class="nb" x="715" y="3956" width="158" height="55"/><path class="nbt" d="M715,3956 h158 M715,4011 h158"/>
<text class="t" x="717" y="3970">• Creating and setting result</text><text class="t" x="717" y="3984">object.</text></g>
</svg>
